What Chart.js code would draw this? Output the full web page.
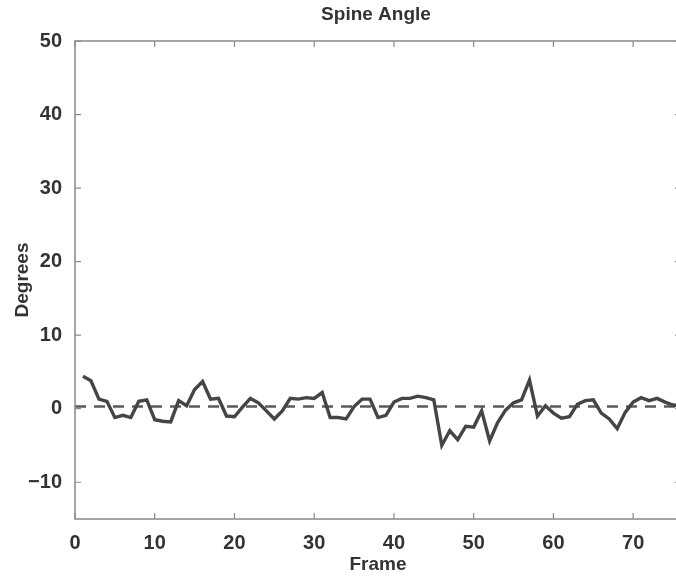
<!DOCTYPE html>
<html>
<head>
<meta charset="utf-8">
<script src="https://cdn.jsdelivr.net/npm/chart.js@4.4.1/dist/chart.umd.min.js"></script>
<style>
  html, body { margin: 0; padding: 0; background: #fff; overflow: hidden; }
  #wrap { position: absolute; left: 0; top: 0; width: 690px; height: 579px; }
</style>
</head>
<body>
<div id="wrap"><canvas id="c" width="690" height="579"></canvas></div>
<script>
// ---- Data ----
const frames = [1,2,3,4,5,6,7,8,9,10,11,12,13,14,15,16,17,18,19,20,
  21,22,23,24,25,26,27,28,29,30,31,32,33,34,35,36,37,38,39,40,
  41,42,43,44,45,46,47,48,49,50,51,52,53,54,55,56,57,58,59,60,
  61,62,63,64,65,66,67,68,69,70,71,72,73,74,75,76];
const spineAngle = [4.4,3.8,1.3,1.0,-1.2,-0.9,-1.2,1.0,1.2,-1.5,
  -1.7,-1.8,1.1,0.4,2.6,3.7,1.3,1.4,-1.0,-1.1,
  0.2,1.4,0.8,-0.3,-1.4,-0.3,1.4,1.3,1.5,1.4,
  2.2,-1.2,-1.2,-1.4,0.3,1.3,1.3,-1.2,-0.9,0.9,
  1.4,1.4,1.7,1.5,1.2,-5.0,-3.0,-4.2,-2.4,-2.5,
  -0.3,-4.4,-1.9,-0.2,0.8,1.2,3.9,-1.0,0.4,-0.6,
  -1.3,-1.1,0.6,1.1,1.2,-0.6,-1.4,-2.7,-0.5,0.9,
  1.5,1.1,1.4,0.9,0.5,0.4];
const referenceFrames = [0, 76];
const referenceLevel = [0.3, 0.3];
const xTicks = [0,10,20,30,40,50,60,70];
const yTicks = [-10,0,10,20,30,40,50];
const xRange = [0, 76];
const yRange = [-15, 50];
const chartTitle = 'Spine Angle';

const FONT = "'Liberation Sans', Arial, Helvetica, sans-serif";
const TEXT = '#333333';
const AXIS = '#8a8a8a';

const boxPlugin = {
  id: 'boxTicks',
  afterDraw(chart) {
    const {ctx, chartArea: a, scales: {x, y}} = chart;
    ctx.save();
    ctx.strokeStyle = AXIS;
    ctx.lineWidth = 1.5;
    ctx.strokeRect(a.left, a.top, a.right - a.left, a.bottom - a.top);
    ctx.lineWidth = 1.2;
    const L = 6;
    ctx.beginPath();
    xTicks.forEach(v => {
      const px = x.getPixelForValue(v);
      ctx.moveTo(px, a.bottom); ctx.lineTo(px, a.bottom - L);
      ctx.moveTo(px, a.top); ctx.lineTo(px, a.top + L);
    });
    yTicks.forEach(v => {
      const py = y.getPixelForValue(v);
      ctx.moveTo(a.left, py); ctx.lineTo(a.left + L, py);
      ctx.moveTo(a.right, py); ctx.lineTo(a.right - L, py);
    });
    ctx.stroke();
    // title centred over the plot area
    ctx.fillStyle = TEXT;
    ctx.font = "bold 19px " + FONT;
    ctx.textAlign = 'center';
    ctx.textBaseline = 'middle';
    ctx.fillText(chartTitle, (a.left + a.right) / 2 - 2, 15);
    ctx.restore();
  }
};

new Chart(document.getElementById('c'), {
  type: 'scatter',
  data: {
    datasets: [
      {
        label: 'Reference',
        data: referenceFrames.map((f, i) => ({x: f, y: referenceLevel[i]})),
        showLine: true,
        borderColor: '#5a5a5a',
        borderWidth: 2.5,
        borderDash: [11, 8],
        pointRadius: 0,
        order: 2
      },
      {
        label: chartTitle,
        data: frames.map((f, i) => ({x: f, y: spineAngle[i]})),
        showLine: true,
        borderColor: '#454545',
        borderWidth: 3.4,
        pointRadius: 0,
        tension: 0,
        order: 1
      }
    ]
  },
  options: {
    responsive: false,
    animation: false,
    devicePixelRatio: 1,
    layout: { padding: { left: 0, right: 9, top: 41, bottom: 0 } },
    plugins: {
      legend: { display: false },
      tooltip: { enabled: false },
      title: { display: false }
    },
    scales: {
      x: {
        type: 'linear',
        min: xRange[0], max: xRange[1],
        afterBuildTicks: s => { s.ticks = xTicks.map(v => ({value: v})); },
        afterFit: s => { s.height = 60; },
        grid: { display: false },
        border: { display: false },
        ticks: {
          color: TEXT, padding: 4,
          font: { family: FONT, size: 20, weight: 'bold' },
          maxRotation: 0,
          callback: v => String(v)
        },
        title: {
          display: true, text: 'Frame', color: TEXT,
          font: { family: FONT, size: 19, weight: 'bold' },
          padding: { top: 0, bottom: 3 }
        }
      },
      y: {
        type: 'linear',
        min: yRange[0], max: yRange[1],
        afterBuildTicks: s => { s.ticks = yTicks.map(v => ({value: v})); },
        afterFit: s => { s.width = 75; },
        grid: { display: false },
        border: { display: false },
        ticks: {
          color: TEXT, padding: 5,
          font: { family: FONT, size: 20, weight: 'bold' },
          callback: v => (v < 0 ? '\u2212' + Math.abs(v) : String(v))
        },
        title: {
          display: true, text: 'Degrees', color: TEXT,
          font: { family: FONT, size: 19, weight: 'bold' },
          padding: { top: 11, bottom: 0 }
        }
      }
    }
  },
  plugins: [boxPlugin]
});
</script>
</body>
</html>
